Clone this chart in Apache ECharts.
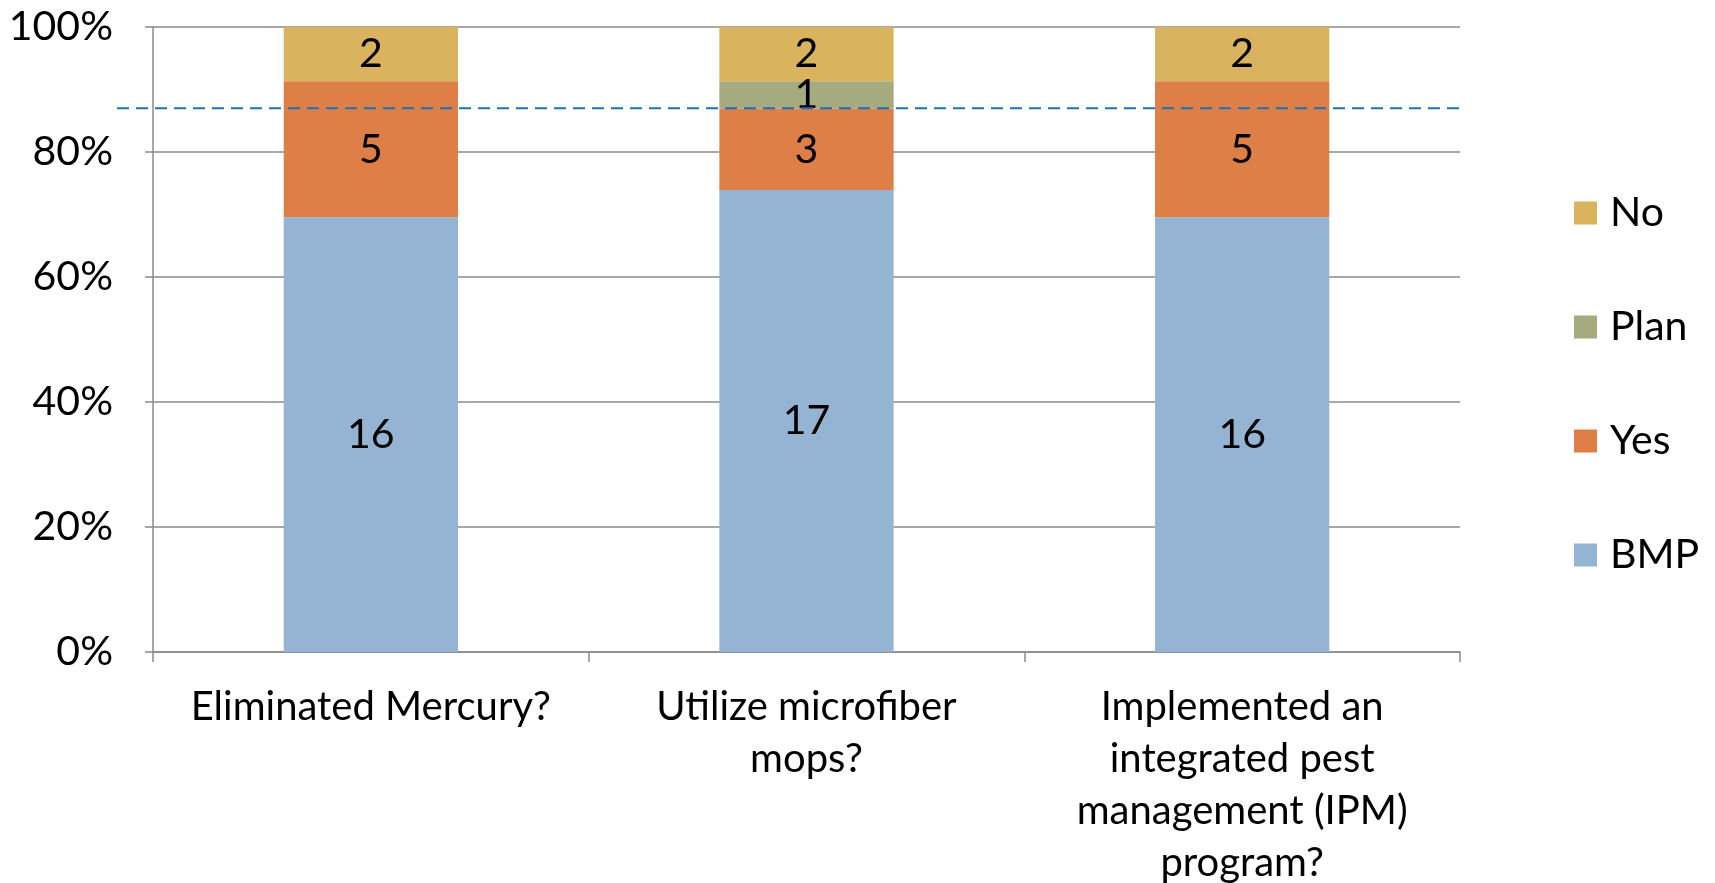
<!DOCTYPE html>
<html>
<head>
<meta charset="utf-8">
<script src="https://cdn.jsdelivr.net/npm/echarts@6/dist/echarts.min.js"></script>
<style>
html,body{margin:0;padding:0;background:#fff;}
#chart{width:1715px;height:883px;}
</style>
</head>
<body>
<div id="chart"></div>
<script>
const categories = ['Eliminated Mercury?', 'Utilize microfiber\nmops?', 'Implemented an\nintegrated pest\nmanagement (IPM)\nprogram?'];
const bmpCounts = [16, 17, 16];
const yesCounts = [5, 3, 5];
const planCounts = [0, 1, 0];
const noCounts = [2, 2, 2];
const legendOrder = ['No', 'Plan', 'Yes', 'BMP'];
const refLineValue = 87;

const totals = categories.map((c, i) => bmpCounts[i] + yesCounts[i] + planCounts[i] + noCounts[i]);
const pct = arr => arr.map((v, i) => ({ value: v / totals[i] * 100, count: v }));

const FONT = 'Lato';
const AXIS_COLOR = '#8a8a8a';

function barSeries(name, counts, color) {
  return {
    name: name,
    type: 'bar',
    stack: 'total',
    barWidth: '40%',
    xAxisIndex: 0, yAxisIndex: 0,
    itemStyle: { color: color },
    label: {
      show: true,
      position: 'inside',
      color: '#000',
      fontFamily: FONT,
      fontSize: 41,
      formatter: p => (p.data.count ? String(p.data.count) : '')
    },
    data: pct(counts)
  };
}

const chart = echarts.init(document.getElementById('chart'));
chart.setOption({
  animation: false,
  textStyle: { fontFamily: FONT },
  legend: {
    data: legendOrder,
    orient: 'vertical',
    left: 1569,
    top: 186,
    itemWidth: 23,
    itemHeight: 23,
    itemGap: 70,
    icon: 'rect',
    textStyle: { fontFamily: FONT, fontSize: 41, color: '#000', lineHeight: 44, padding: [0, 0, 0, 8] }
  },
  grid: [
    { left: 153, right: 255, top: 27, bottom: 231, containLabel: false, outerBoundsMode: 'none' },
    { left: 117, right: 255, top: 27, bottom: 231, containLabel: false, outerBoundsMode: 'none' }
  ],
  xAxis: [
    {
      type: 'category',
      gridIndex: 0,
      data: categories,
      axisLine: { lineStyle: { color: AXIS_COLOR, width: 1.5 } },
      axisTick: { show: true, length: 10, interval: 0, lineStyle: { color: AXIS_COLOR, width: 1.5 } },
      axisLabel: { color: '#000', fontFamily: FONT, fontSize: 40, lineHeight: 52, margin: 29, interval: 0 }
    },
    { type: 'value', gridIndex: 1, min: 0, max: 1, show: false }
  ],
  yAxis: [
    {
      type: 'value',
      gridIndex: 0,
      min: 0,
      max: 100,
      interval: 20,
      axisLine: { show: true, lineStyle: { color: AXIS_COLOR, width: 1.5 } },
      axisTick: { show: true, length: 8, lineStyle: { color: AXIS_COLOR, width: 1.5 } },
      splitLine: { lineStyle: { color: AXIS_COLOR, width: 1.5 } },
      axisLabel: { color: '#000', fontFamily: FONT, fontSize: 41, margin: 40, formatter: '{value}%' }
    },
    { type: 'value', gridIndex: 1, min: 0, max: 100, show: false }
  ],
  series: [
    barSeries('BMP', bmpCounts, '#95B4D3'),
    barSeries('Yes', yesCounts, '#DE7F48'),
    barSeries('Plan', planCounts, '#A5AA7F'),
    barSeries('No', noCounts, '#D9B35E'),
    {
      name: 'ref',
      type: 'line',
      xAxisIndex: 1, yAxisIndex: 1,
      symbol: 'none',
      silent: true,
      z: 5,
      lineStyle: { color: '#1A72BD', width: 2, type: [12, 7] },
      data: [[0, refLineValue], [1, refLineValue]]
    }
  ]
});
</script>
</body>
</html>
